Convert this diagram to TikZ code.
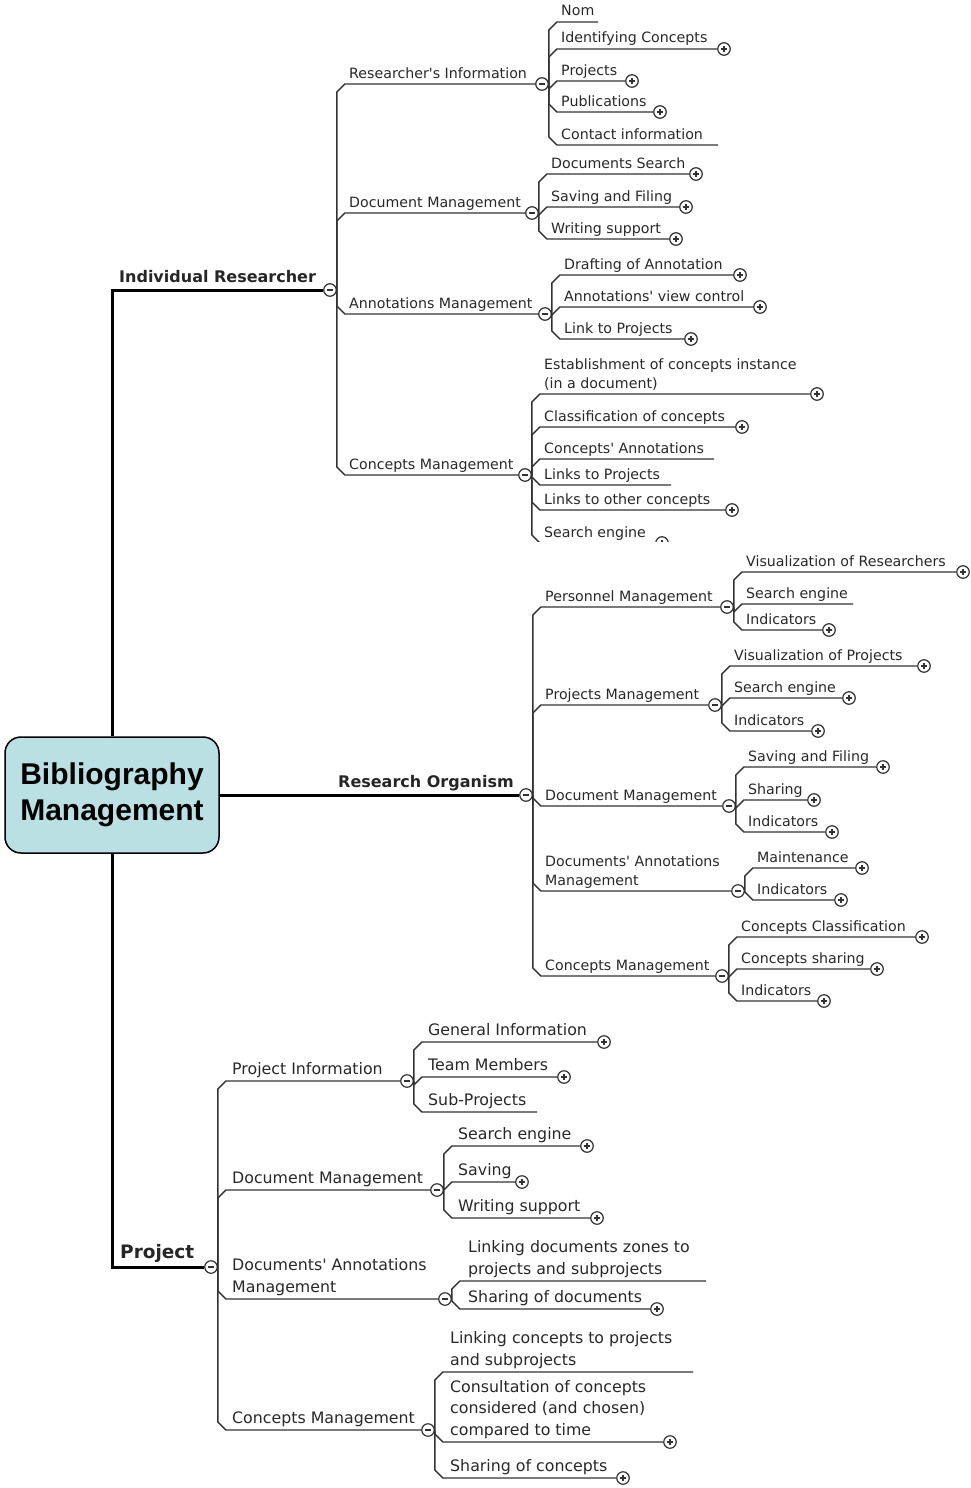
\documentclass[tikz,border=0pt]{standalone}
\usepackage{fontspec}
\usetikzlibrary{calc}
\newfontfamily\mapfont{DejaVu Sans}
\newfontfamily\boxfont{Liberation Sans}
\definecolor{boxblue}{RGB}{186,224,227}
\definecolor{linegray}{RGB}{50,50,50}
\definecolor{txtgray}{RGB}{40,40,40}
\newcommand{\mlines}[1]{\begin{tabular}[b]{@{}l@{}}#1\end{tabular}}
\tikzset{
  lbl/.style={anchor=base west, inner sep=0pt, text=txtgray, font=\mapfont\fontsize{14.2}{19}\selectfont},
  lblp/.style={lbl, font=\mapfont\fontsize{15.8}{21.5}\selectfont},
  headlbl/.style={anchor=base west, inner sep=0pt, text=black!85, font=\mapfont\bfseries\fontsize{16}{18}\selectfont},
  mainbox/.style={draw=black, line width=1.5pt, fill=boxblue, rounded corners=16pt,
    minimum width=214pt, minimum height=116pt, align=center,
    font=\boxfont\bfseries\fontsize{30}{36}\selectfont},
  branch/.style={draw=linegray, line width=1.4pt},
  trunk/.style={draw=black, line width=3pt},
  knob/.style={circle, draw=linegray, fill=white, line width=1.2pt, minimum size=12.5pt, inner sep=0pt},
  tgminus/.style={knob, path picture={
    \draw[line width=1.1pt] ([xshift=-3.2pt]path picture bounding box.center) -- ([xshift=3.2pt]path picture bounding box.center);}},
  tgplus/.style={knob, path picture={
    \draw[line width=1.1pt] ([xshift=-3.2pt]path picture bounding box.center) -- ([xshift=3.2pt]path picture bounding box.center)
      ([yshift=-3.2pt]path picture bounding box.center) -- ([yshift=3.2pt]path picture bounding box.center);}},
  kid/.style={to path={let \p1=(\tikztostart), \p2=(\tikztotarget),
      \n1={ifthenelse(\y2>\y1,-8,8)} in
      (\p1) -- (\x1,{\y2+\n1}) -- ({\x1+8},\y2) -- (\p2)}},
}
\begin{document}
\begin{tikzpicture}[x=1pt,y=-1pt]
\useasboundingbox (0,0) rectangle (970,1488);

% central topic
\node[mainbox] (bm) at (112,795) {Bibliography\\Management};

% main branches
\node[tgminus] (ir) at (330,290) {};
\node[tgminus] (ro) at (526,795) {};
\node[tgminus] (pj) at (211,1267) {};
\draw[trunk] (bm.north) |- (ir.west);
\draw[trunk] (bm.east) -- (ro.west);
\draw[trunk] (bm.south) |- (pj.west);
\node[headlbl] (ir-t) at (119,282) {Individual Researcher};
\node[headlbl] (ro-t) at (338,787) {Research Organism};
\node[headlbl, font=\mapfont\bfseries\fontsize{18.5}{20}\selectfont] (pj-t) at (120,1258) {Project};

% Individual Researcher
\node[tgminus] (ri) at (542,84) {};
\node[tgminus] (idm) at (532,213) {};
\node[tgminus] (iam) at (545,314) {};
\node[tgminus] (icm) at (525,475) {};
\foreach \k in {ri,idm,iam,icm}
  \draw[branch] (ir.east) to[kid] (\k.west);
\node[lbl] (ri-t) at (349,78) {Researcher's Information};
\node[lbl] (idm-t) at (349,207) {Document Management};
\node[lbl] (iam-t) at (349,308) {Annotations Management};
\node[lbl] (icm-t) at (349,469) {Concepts Management};

\node[tgplus] (ri-idc) at (724,49) {};
\node[tgplus] (ri-prj) at (632,81) {};
\node[tgplus] (ri-pub) at (660,112) {};
\coordinate (ri-nom) at (598,22);
\coordinate (ri-con) at (718,145);
\foreach \k in {ri-nom,ri-idc.west,ri-prj.west,ri-pub.west,ri-con}
  \draw[branch] (ri.east) to[kid] (\k);
\node[lbl] (ri-nom-t) at (561,16) {Nom};
\node[lbl] (ri-idc-t) at (561,43) {Identifying Concepts};
\node[lbl] (ri-prj-t) at (561,75) {Projects};
\node[lbl] (ri-pub-t) at (561,106) {Publications};
\node[lbl] (ri-con-t) at (561,139) {Contact information};

\node[tgplus] (idm-src) at (696,174) {};
\node[tgplus] (idm-sav) at (686,207) {};
\node[tgplus] (idm-wri) at (676,239) {};
\foreach \k in {idm-src,idm-sav,idm-wri}
  \draw[branch] (idm.east) to[kid] (\k.west);
\node[lbl] (idm-src-t) at (551,168) {Documents Search};
\node[lbl] (idm-sav-t) at (551,201) {Saving and Filing};
\node[lbl] (idm-wri-t) at (551,233) {Writing support};

\node[tgplus] (iam-dra) at (740,275) {};
\node[tgplus] (iam-vie) at (760,307) {};
\node[tgplus] (iam-lnk) at (691,339) {};
\foreach \k in {iam-dra,iam-vie,iam-lnk}
  \draw[branch] (iam.east) to[kid] (\k.west);
\node[lbl] (iam-dra-t) at (564,269) {Drafting of Annotation};
\node[lbl] (iam-vie-t) at (564,301) {Annotations' view control};
\node[lbl] (iam-lnk-t) at (564,333) {Link to Projects};

\node[tgplus] (icm-est) at (817,394) {};
\node[tgplus] (icm-cla) at (742,427) {};
\coordinate (icm-ann) at (714,459);
\coordinate (icm-lnk) at (671,485);
\node[tgplus] (icm-oth) at (732,510) {};
\foreach \k in {icm-est.west,icm-cla.west,icm-ann,icm-lnk,icm-oth.west}
  \draw[branch] (icm.east) to[kid] (\k);
\node[lbl] (icm-est-t) at (544,388) {\mlines{Establishment of concepts instance\\(in a document)}};
\node[lbl] (icm-cla-t) at (544,421) {Classification of concepts};
\node[lbl] (icm-ann-t) at (544,453) {Concepts' Annotations};
\node[lbl] (icm-lnk-t) at (544,479) {Links to Projects};
\node[lbl] (icm-oth-t) at (544,504) {Links to other concepts};
\begin{scope}
  \clip (500,480) rectangle (700,541);
  \node[tgplus] (icm-sea) at (662,543) {};
  \draw[branch] (icm.east) to[kid] (icm-sea.west);
  \node[lbl] (icm-sea-t) at (544,537) {Search engine};
\end{scope}

% Research Organism
\node[tgminus] (rpm) at (727,607) {};
\node[tgminus] (rpj) at (715,705) {};
\node[tgminus] (rdm) at (729,806) {};
\node[tgminus] (rda) at (738,891) {};
\node[tgminus] (rcm) at (722,976) {};
\foreach \k in {rpm,rpj,rdm,rda,rcm}
  \draw[branch] (ro.east) to[kid] (\k.west);
\node[lbl] (rpm-t) at (545,601) {Personnel Management};
\node[lbl] (rpj-t) at (545,699) {Projects Management};
\node[lbl] (rdm-t) at (545,800) {Document Management};
\node[lbl] (rda-t) at (545,885) {\mlines{Documents' Annotations\\Management}};
\node[lbl] (rcm-t) at (545,970) {Concepts Management};

\node[tgplus] (rpm-vis) at (963,572) {};
\coordinate (rpm-sea) at (853,604);
\node[tgplus] (rpm-ind) at (829,630) {};
\foreach \k in {rpm-vis.west,rpm-sea,rpm-ind.west}
  \draw[branch] (rpm.east) to[kid] (\k);
\node[lbl] (rpm-vis-t) at (746,566) {Visualization of Researchers};
\node[lbl] (rpm-sea-t) at (746,598) {Search engine};
\node[lbl] (rpm-ind-t) at (746,624) {Indicators};

\node[tgplus] (rpj-vis) at (924,666) {};
\node[tgplus] (rpj-sea) at (849,698) {};
\node[tgplus] (rpj-ind) at (818,731) {};
\foreach \k in {rpj-vis,rpj-sea,rpj-ind}
  \draw[branch] (rpj.east) to[kid] (\k.west);
\node[lbl] (rpj-vis-t) at (734,660) {Visualization of Projects};
\node[lbl] (rpj-sea-t) at (734,692) {Search engine};
\node[lbl] (rpj-ind-t) at (734,725) {Indicators};

\node[tgplus] (rdm-sav) at (883,767) {};
\node[tgplus] (rdm-sha) at (814,800) {};
\node[tgplus] (rdm-ind) at (832,832) {};
\foreach \k in {rdm-sav,rdm-sha,rdm-ind}
  \draw[branch] (rdm.east) to[kid] (\k.west);
\node[lbl] (rdm-sav-t) at (748,761) {Saving and Filing};
\node[lbl] (rdm-sha-t) at (748,794) {Sharing};
\node[lbl] (rdm-ind-t) at (748,826) {Indicators};

\node[tgplus] (rda-mai) at (862,868) {};
\node[tgplus] (rda-ind) at (841,900) {};
\foreach \k in {rda-mai,rda-ind}
  \draw[branch] (rda.east) to[kid] (\k.west);
\node[lbl] (rda-mai-t) at (757,862) {Maintenance};
\node[lbl] (rda-ind-t) at (757,894) {Indicators};

\node[tgplus] (rcm-cla) at (922,937) {};
\node[tgplus] (rcm-sha) at (877,969) {};
\node[tgplus] (rcm-ind) at (824,1001) {};
\foreach \k in {rcm-cla,rcm-sha,rcm-ind}
  \draw[branch] (rcm.east) to[kid] (\k.west);
\node[lbl] (rcm-cla-t) at (741,931) {Concepts Classification};
\node[lbl] (rcm-sha-t) at (741,963) {Concepts sharing};
\node[lbl] (rcm-ind-t) at (741,995) {Indicators};

% Project
\node[tgminus] (ppi) at (407,1081) {};
\node[tgminus] (pdm) at (437,1190) {};
\node[tgminus] (pda) at (445,1299) {};
\node[tgminus] (pcm) at (428,1430) {};
\foreach \k in {ppi,pdm,pda,pcm}
  \draw[branch] (pj.east) to[kid] (\k.west);
\node[lblp] (ppi-t) at (232,1074) {Project Information};
\node[lblp] (pdm-t) at (232,1183) {Document Management};
\node[lblp] (pda-t) at (232,1292) {\mlines{Documents' Annotations\\Management}};
\node[lblp] (pcm-t) at (232,1423) {Concepts Management};

\node[tgplus] (ppi-gen) at (604,1042) {};
\node[tgplus] (ppi-tea) at (564,1077) {};
\coordinate (ppi-sub) at (537,1112);
\foreach \k in {ppi-gen.west,ppi-tea.west,ppi-sub}
  \draw[branch] (ppi.east) to[kid] (\k);
\node[lblp] (ppi-gen-t) at (428,1035) {General Information};
\node[lblp] (ppi-tea-t) at (428,1070) {Team Members};
\node[lblp] (ppi-sub-t) at (428,1105) {Sub-Projects};

\node[tgplus] (pdm-sea) at (587,1146) {};
\node[tgplus] (pdm-sav) at (522,1182) {};
\node[tgplus] (pdm-wri) at (597,1218) {};
\foreach \k in {pdm-sea,pdm-sav,pdm-wri}
  \draw[branch] (pdm.east) to[kid] (\k.west);
\node[lblp] (pdm-sea-t) at (458,1139) {Search engine};
\node[lblp] (pdm-sav-t) at (458,1175) {Saving};
\node[lblp] (pdm-wri-t) at (458,1211) {Writing support};

\coordinate (pda-lnk) at (706,1281);
\node[tgplus] (pda-sha) at (657,1309) {};
\foreach \k in {pda-lnk,pda-sha.west}
  \draw[branch] (pda.east) to[kid] (\k);
\node[lblp] (pda-lnk-t) at (468,1274) {\mlines{Linking documents zones to\\projects and subprojects}};
\node[lblp] (pda-sha-t) at (468,1302) {Sharing of documents};

\coordinate (pcm-lnk) at (693,1372);
\node[tgplus] (pcm-con) at (670,1442) {};
\node[tgplus] (pcm-sha) at (623,1478) {};
\foreach \k in {pcm-lnk,pcm-con.west,pcm-sha.west}
  \draw[branch] (pcm.east) to[kid] (\k);
\node[lblp] (pcm-lnk-t) at (450,1365) {\mlines{Linking concepts to projects\\and subprojects}};
\node[lblp] (pcm-con-t) at (450,1435) {\mlines{Consultation of concepts\\considered (and chosen)\\compared to time}};
\node[lblp] (pcm-sha-t) at (450,1471) {Sharing of concepts};
\end{tikzpicture}
\end{document}
